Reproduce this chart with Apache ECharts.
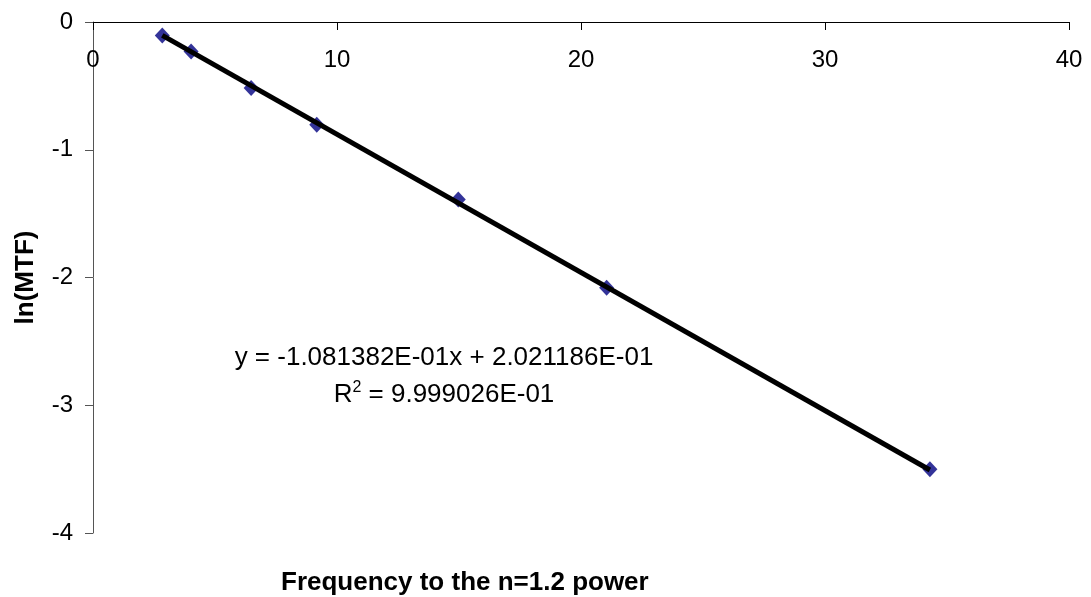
<!DOCTYPE html>
<html>
<head>
<meta charset="utf-8">
<script src="https://cdn.jsdelivr.net/npm/echarts@6/dist/echarts.min.js"></script>
<style>
  html, body { margin: 0; padding: 0; background: #fff; }
  #chart { width: 1091px; height: 597px; }
</style>
</head>
<body>
<div id="chart"></div>
<script>
// Measured data points
const xValues = [2.84, 4.02, 6.48, 9.17, 14.97, 21.05, 34.30];
const yValues = [-0.105, -0.230, -0.517, -0.805, -1.389, -2.080, -3.500];
// Trend line endpoints
const trendX = [2.84, 34.30];
const trendY = [-0.105, -3.507];
// Axis ticks
const xTicks = [0, 10, 20, 30, 40];
const yTicks = [-4, -3, -2, -1, 0];
// Texts
const xTitle = 'Frequency to the n=1.2 power';
const yTitle = 'ln(MTF)';
const eqText = 'y = -1.081382E-01x + 2.021186E-01';
const r2Value = ' = 9.999026E-01';

const FONT = '"Liberation Sans", Arial, sans-serif';

const chart = echarts.init(document.getElementById('chart'), null, { renderer: 'canvas' });

const option = {
  backgroundColor: '#ffffff',
  animation: false,
  grid: { left: 93, right: 22, top: 22, bottom: 64, containLabel: false },
  xAxis: {
    type: 'value',
    min: xTicks[0],
    max: xTicks[xTicks.length - 1],
    interval: 10,
    position: 'top',
    axisLine: { show: true, onZero: false, lineStyle: { color: '#000', width: 1 } },
    axisTick: { show: true, inside: true, length: 8, lineStyle: { color: '#000', width: 1 } },
    axisLabel: { inside: true, color: '#000', fontFamily: FONT, fontSize: 24, margin: 26 },
    splitLine: { show: false }
  },
  yAxis: {
    type: 'value',
    min: yTicks[0],
    max: yTicks[yTicks.length - 1],
    interval: 1,
    axisLine: { show: true, onZero: false, lineStyle: { color: '#555', width: 1 } },
    axisTick: { show: true, length: 8, lineStyle: { color: '#555', width: 1 } },
    axisLabel: { color: '#000', fontFamily: FONT, fontSize: 24, margin: 20 },
    splitLine: { show: false },
    name: yTitle,
    nameLocation: 'middle',
    nameGap: 54,
    nameRotate: 90,
    nameTextStyle: { color: '#000', fontFamily: FONT, fontSize: 26, fontWeight: 'bold' }
  },
  series: [
    {
      type: 'scatter',
      data: xValues.map((x, i) => [x, yValues[i]]),
      symbol: 'diamond',
      symbolSize: [15, 16],
      itemStyle: { color: '#000080' },
      z: 2
    },
    {
      type: 'line',
      data: trendX.map((x, i) => [x, trendY[i]]),
      showSymbol: false,
      symbol: 'none',
      lineStyle: { color: '#000', width: 5 },
      z: 3
    }
  ],
  graphic: [
    {
      type: 'text',
      left: 581 - 300,
      top: 570,
      style: {
        text: xTitle,
        width: 600,
        align: 'center',
        fill: '#000',
        font: 'bold 26px ' + FONT
      },
      z: 10
    },
    {
      type: 'text',
      x: 444, y: 358,
      style: {
        text: eqText,
        align: 'center',
        verticalAlign: 'middle',
        fill: '#000',
        font: '26px ' + FONT
      },
      z: 10
    },
    {
      type: 'text',
      x: 444, y: 395,
      style: {
        text: '{a|R}{s|2}{a|' + r2Value + '}',
        align: 'center',
        verticalAlign: 'middle',
        rich: {
          a: { fontFamily: FONT, fontSize: 26, fill: '#000', color: '#000' },
          s: { fontFamily: FONT, fontSize: 16, fill: '#000', color: '#000', padding: [0, 0, 14, 0] }
        }
      },
      z: 10
    }
  ]
};

chart.setOption(option);
</script>
</body>
</html>
